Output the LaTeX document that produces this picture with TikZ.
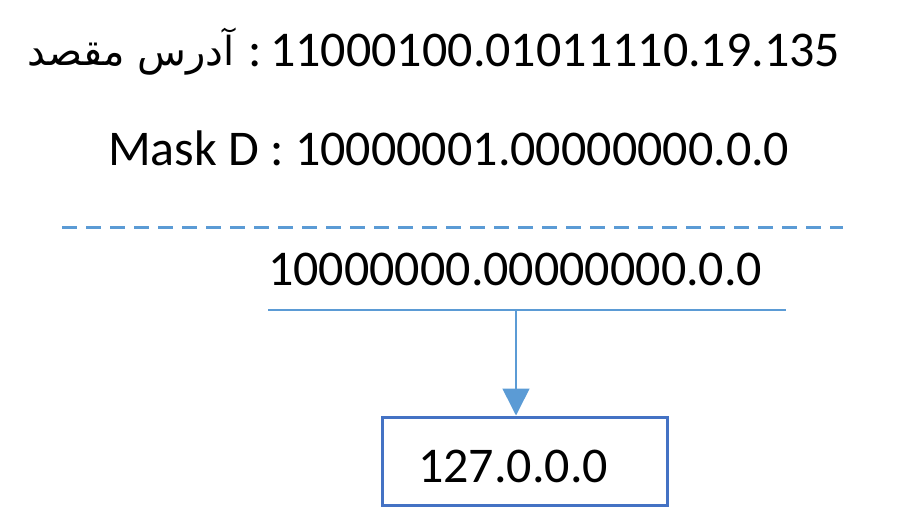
\documentclass[tikz,border=0pt]{standalone}
\usepackage{fontspec}
\setmainfont{Carlito}
\newfontfamily\arabicfont[Script=Arabic]{DejaVu Sans}
\TeXXeTstate=1
\usetikzlibrary{arrows.meta}
\definecolor{lblue}{HTML}{5B9BD5}
\definecolor{dblue}{HTML}{4472C4}
\tikzset{
  txt/.style={inner sep=0pt, anchor=base west, font=\fontsize{50}{60}\selectfont},
  rule/.style={draw=lblue, line width=2pt},
  sep/.style={draw=lblue, line width=3pt, dash pattern=on 15pt off 9pt},
  arrowline/.style={draw=lblue, line width=1.6pt, -{Triangle[width=27pt,length=27pt,fill=lblue]}},
  resbox/.style={draw=dblue, line width=3pt, minimum width=285pt, minimum height=88pt, inner sep=0pt}
}
\begin{document}
\begin{tikzpicture}[x=1pt,y=-1pt]
\useasboundingbox (0,0) rectangle (906,508);
% line 1
\node[txt, anchor=base east, font=\fontsize{40}{48}\selectfont\arabicfont] (dest) at (235,66) {\beginR آدرس مقصد\endR};
\node[txt, anchor=base] (colon) at (255,67) {:};
\node[txt] (addr) at (270,67) {11000100.01011110.19.135};
% line 2
\node[txt] (mask) at (108,166) {Mask D : 10000001.00000000.0.0};
% separator
\coordinate (s1) at (62,228);
\coordinate (s2) at (843,228);
\draw[sep] (s1) -- (s2);
% result
\node[txt] (res) at (268,285) {10000000.00000000.0.0};
\coordinate (r1) at (268,310);
\coordinate (r2) at (786,310);
\draw[rule] (r1) -- (r2);
\coordinate (split) at (516,310);
% box
\node[resbox] (box) at (524.5,461) {};
\node[txt] (net) at (418,482) {127.0.0.0};
\draw[arrowline] (split) -- (box.north -| split);
\end{tikzpicture}
\end{document}
